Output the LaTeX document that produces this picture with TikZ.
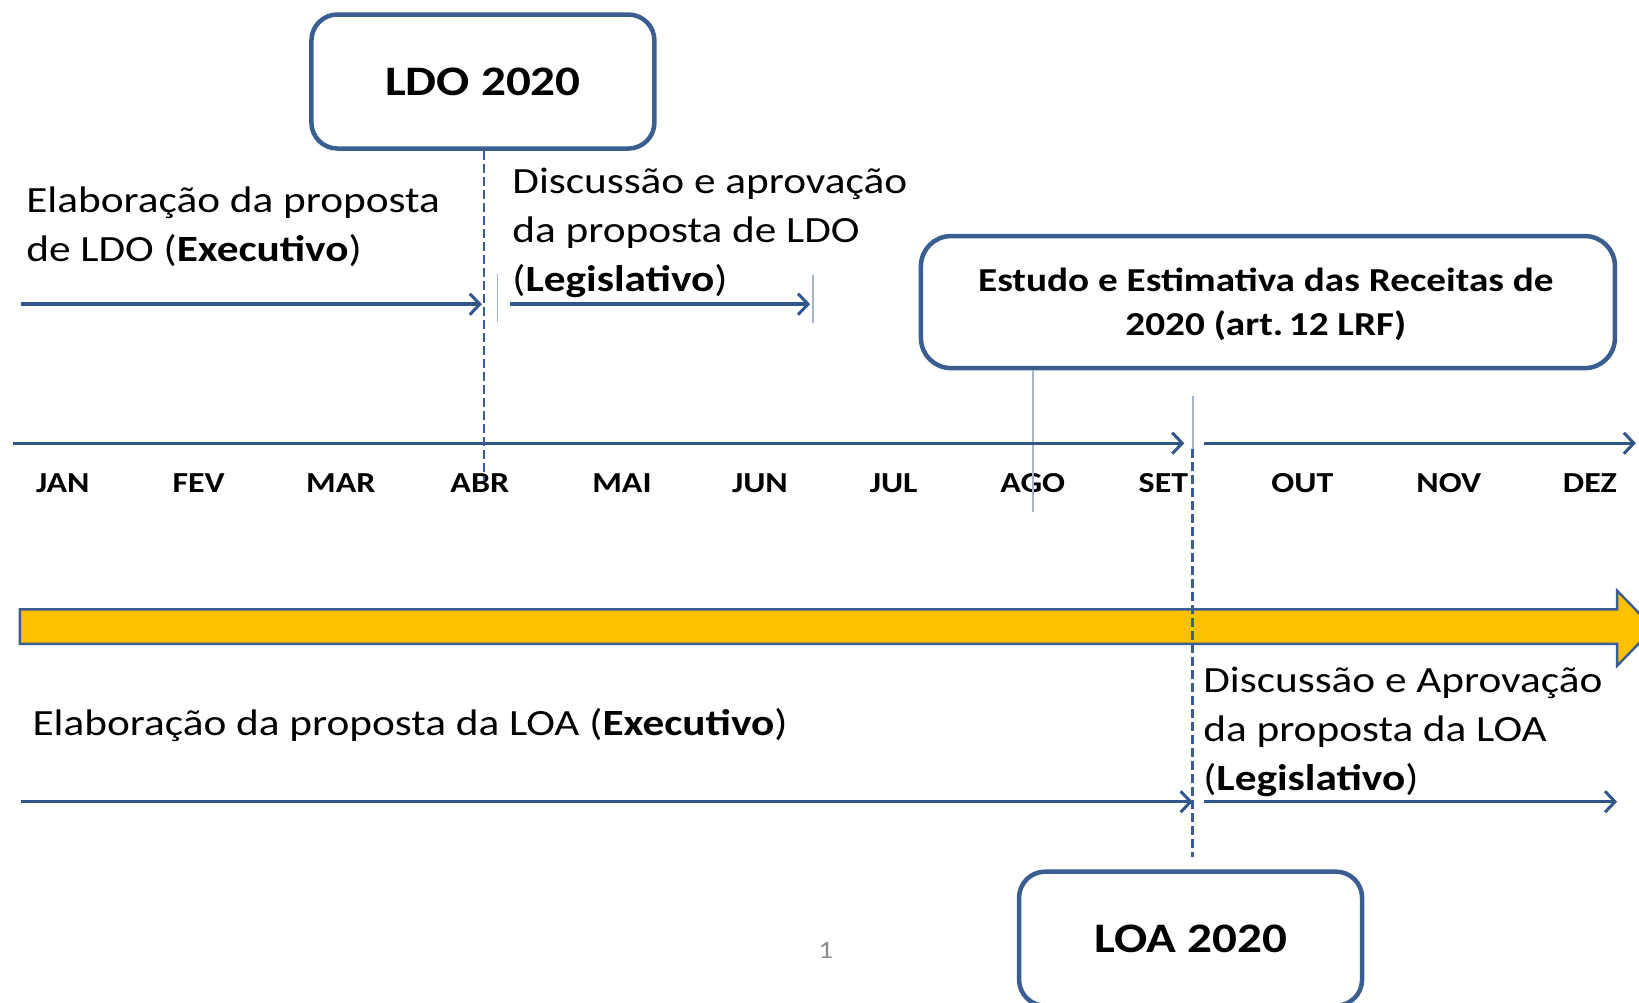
\documentclass[tikz,border=0pt]{standalone}
\usepackage{fontspec}
\setmainfont[FakeStretch=1.17]{Carlito}
\usetikzlibrary{arrows.meta}
\definecolor{lineblue}{RGB}{50,86,138}
\definecolor{boxblue}{RGB}{58,94,145}
\definecolor{ygold}{RGB}{255,192,0}
\definecolor{thingray}{RGB}{165,182,204}
\definecolor{pagegray}{RGB}{140,140,140}
\begin{document}
\begin{tikzpicture}[x=1.0453pt,y=-1.0453pt,
  flow/.style={draw=lineblue, line width=3.4pt, -{Straight Barb[length=10pt,width=21pt,line width=3pt]}},
  milebox/.style={draw=boxblue, line width=4.5pt, rounded corners=26pt, fill=white, align=center},
  body/.style={font=\fontsize{37}{49}\selectfont, align=left, inner sep=0pt, anchor=base west},
  month/.style={font=\fontsize{29}{32}\selectfont\bfseries, anchor=base, inner sep=0pt},
  marker/.style={draw=thingray, line width=1.8pt},
  guide/.style={draw=boxblue, line width=2.6pt, dash pattern=on 9pt off 4pt}]
\useasboundingbox (0,0) rectangle (1568,958.6);
\clip (0,0) rectangle (1568,958.6);

% yellow big arrow
\path[fill=ygold, draw=boxblue, line width=2.4pt]
  (19,583) -- (1547,583) -- (1547,565) -- (1582,601) -- (1547,637) -- (1547,616) -- (19,616) -- cycle;

% milestone boxes
\node[milebox, minimum width=343pt, minimum height=134pt,
      font=\fontsize{42}{50}\selectfont\bfseries] (ldo) at (462,78) {LDO 2020};
\node[milebox, minimum width=694pt, minimum height=132pt, rounded corners=30pt,
      font=\fontsize{33.5}{44}\selectfont\bfseries] (est) at (1213,289) {};
\node[font=\fontsize{33.5}{44}\selectfont\bfseries, align=center, inner sep=0pt] (estt) at (1211,291)
      {Estudo e Estimativa das Receitas de\\2020 (art.\,12 LRF)};
\node[milebox, minimum width=343pt, minimum height=134pt,
      font=\fontsize{42}{50}\selectfont\bfseries] (loa) at (1139,898) {LOA 2020};

% texts (anchor = baseline of last line)
\node[body] (t1) at (25,250.5) {Elaboração da proposta\\de LDO (\textbf{Executivo})};
\node[body] (t2) at (490,279) {Discussão e aprovação\\da proposta de LDO\\(\textbf{Legislativo})};
\node[body] (t3) at (31,704) {Elaboração da proposta da LOA (\textbf{Executivo})};
\node[body] (t4) at (1151,756) {Discussão e Aprovação\\da proposta da LOA\\(\textbf{Legislativo})};
\node[font=\fontsize{25}{28}\selectfont, text=pagegray, inner sep=0pt] (pg) at (790,909) {1};

% months
\foreach \m/\x in {JAN/60,FEV/190,MAR/326,ABR/459,MAI/595,JUN/727,JUL/855,AGO/988,SET/1113,OUT/1246,NOV/1386,DEZ/1521}
  \node[month] (m\m) at (\x,471) {\m};

% coordinates
\coordinate (a1s) at (20,291);  \coordinate (a1e) at (461,291);
\coordinate (a2s) at (488,291); \coordinate (a2e) at (775,291);
\coordinate (x1s) at (12,424);  \coordinate (x1e) at (1133,424);
\coordinate (x2s) at (1152,424);\coordinate (x2e) at (1565,424);
\coordinate (b1s) at (20,767);  \coordinate (b1e) at (1141,767);
\coordinate (b2s) at (1152,767);\coordinate (b2e) at (1547,767);
\coordinate (ldoend) at (463,460);
\coordinate (settop) at (1141,379);
\coordinate (setmid) at (1141,430);
\coordinate (setend) at (1141,820);

% thin markers
\draw[marker] (476,262) -- (476,308);
\draw[marker] (778,263) -- (778,309);
\draw[marker] (est.south -| mAGO) -- (mAGO.base |- 0,490);
\draw[marker] (settop) -- (setmid);

% timeline arrows
\draw[flow] (a1s) -- (a1e);
\draw[flow] (a2s) -- (a2e);
\draw[flow] (x1s) -- (x1e);
\draw[flow] (x2s) -- (x2e);
\draw[flow] (b1s) -- (b1e);
\draw[flow] (b2s) -- (b2e);

% dashed guides
\draw[guide] (ldo.south -| ldoend) -- (ldoend);
\draw[guide] (setmid) -- (setend);
\end{tikzpicture}
\end{document}
